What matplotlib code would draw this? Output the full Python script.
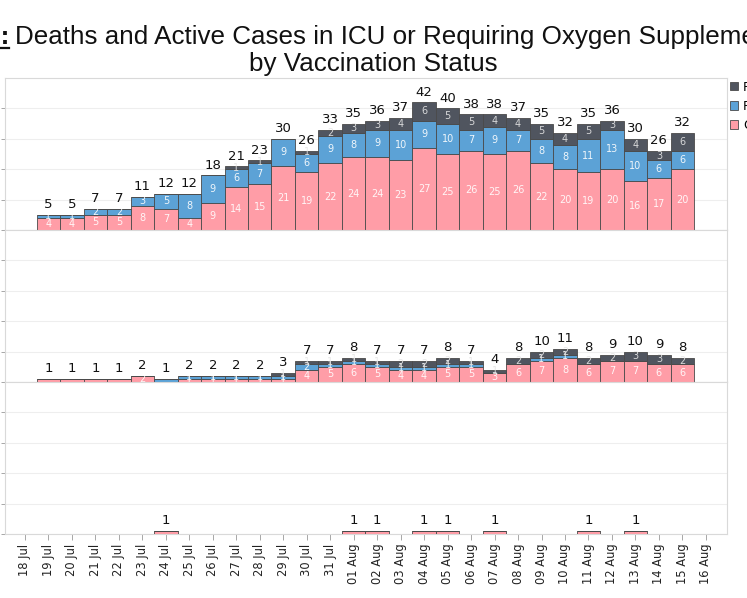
import matplotlib
matplotlib.use('Agg')
import matplotlib.pyplot as plt
import matplotlib.dates as mdates
import pandas as pd
import numpy as np

# ---------------- data ----------------
tick_dates = pd.date_range('2021-07-18', '2021-08-16', freq='D')
bar_dates = pd.date_range('2021-07-19', '2021-08-15', freq='D')

series_labels = ['Fully Vaccinated', 'Partially Vaccinated', 'Others']

# Top panel: requiring oxygen supplementation
oxy_unvacc = [4, 4, 5, 5, 8, 7, 4, 9, 14, 15, 21, 19, 22, 24, 24, 23, 27, 25, 26, 25, 26, 22, 20, 19, 20, 16, 17, 20]
oxy_partial = [1, 1, 2, 2, 3, 5, 8, 9, 6, 7, 9, 6, 9, 8, 9, 10, 9, 10, 7, 9, 7, 8, 8, 11, 13, 10, 6, 6]
oxy_full = [0, 0, 0, 0, 0, 0, 0, 0, 1, 1, 0, 1, 2, 3, 3, 4, 6, 5, 5, 4, 4, 5, 4, 5, 3, 4, 3, 6]

# Middle panel: in ICU
icu_unvacc = [1, 1, 1, 1, 2, 0, 1, 1, 1, 1, 1, 4, 5, 6, 5, 4, 4, 5, 5, 3, 6, 7, 8, 6, 7, 7, 6, 6]
icu_partial = [0, 0, 0, 0, 0, 1, 1, 1, 1, 1, 1, 2, 1, 1, 1, 1, 1, 1, 1, 0, 0, 1, 1, 0, 0, 0, 0, 0]
icu_full = [0, 0, 0, 0, 0, 0, 0, 0, 0, 0, 1, 1, 1, 1, 1, 2, 2, 2, 1, 1, 2, 2, 2, 2, 2, 3, 3, 2]

# Bottom panel: deaths
death_unvacc = [0, 0, 0, 0, 0, 1, 0, 0, 0, 0, 0, 0, 0, 1, 1, 0, 1, 1, 0, 1, 0, 0, 0, 1, 0, 1, 0, 0]
death_partial = [0] * 28
death_full = [0] * 28

title_prefix = 'Figure 6:'
title_line1 = 'Deaths and Active Cases in ICU or Requiring Oxygen Supplementation'
title_line2 = 'by Vaccination Status'

# ---------------- style ----------------
PINK = '#FF9DA7'
BLUE = '#5CA2D6'
DARK = '#50555F'
EDGE = '#4a4a4a'
SPINE = '#d9d9d9'
GRID = '#eeeeee'

W, H = 747, 598
fig = plt.figure(figsize=(W / 100, H / 100), dpi=100)

def rect(top_px, bottom_px, left_px=5, right_px=727):
    return [left_px / W, 1 - bottom_px / H, (right_px - left_px) / W, (bottom_px - top_px) / H]

panel_px = [(78, 230), (230, 382), (382, 534)]
panels = [
    (oxy_unvacc, oxy_partial, oxy_full),
    (icu_unvacc, icu_partial, icu_full),
    (death_unvacc, death_partial, death_full),
]

xmin = mdates.date2num(tick_dates[0]) - 0.85
xmax = mdates.date2num(tick_dates[-1]) + 0.9

axes = []
handles = None
for i, ((top, bot), (unv, par, ful)) in enumerate(zip(panel_px, panels)):
    ax = fig.add_axes(rect(top, bot))
    axes.append(ax)
    unv = np.array(unv)
    par = np.array(par)
    ful = np.array(ful)
    xs = mdates.date2num(bar_dates)
    b1 = ax.bar(xs, unv, width=1.0, color=PINK, edgecolor=EDGE, linewidth=0.6, zorder=3)
    b2 = ax.bar(xs, par, width=1.0, bottom=unv, color=BLUE, edgecolor=EDGE, linewidth=0.6, zorder=3)
    b3 = ax.bar(xs, ful, width=1.0, bottom=unv + par, color=DARK, edgecolor=EDGE, linewidth=0.6, zorder=3)
    if handles is None:
        handles = [b3, b2, b1]
    totals = unv + par + ful
    for j, x in enumerate(xs):
        segs = [(unv[j], 0, '#ffffff'), (par[j], unv[j], '#ffffff'), (ful[j], unv[j] + par[j], '#e6e6e6')]
        nonzero = sum(1 for s in segs if s[0] > 0)
        for val, base, col in segs:
            if val <= 0:
                continue
            if nonzero == 1 and val < 2:
                continue
            ax.text(x, base + val / 2, str(val), ha='center', va='center',
                    fontsize=7, color=col, alpha=0.9, zorder=4)
        if totals[j] > 0:
            ax.annotate(str(totals[j]), (x, totals[j]), xytext=(0, 2.5),
                        textcoords='offset points', ha='center', va='bottom',
                        fontsize=9.5, color='#111111', zorder=5)
    ax.set_xlim(xmin, xmax)
    ax.set_ylim(0, 50)
    ax.set_yticks([0, 10, 20, 30, 40])
    ax.yaxis.grid(True, color=GRID, linewidth=0.8, zorder=0)
    ax.set_axisbelow(True)
    for s in ax.spines.values():
        s.set_color(SPINE)
        s.set_linewidth(0.8)
    ax.tick_params(axis='y', left=True, labelleft=False, length=3, color='#999999', width=0.6)
    if i < 2:
        ax.tick_params(axis='x', bottom=False, labelbottom=False)
    else:
        ax.set_xticks(mdates.date2num(tick_dates))
        ax.xaxis.set_major_formatter(mdates.DateFormatter('%d %b'))
        ax.tick_params(axis='x', bottom=True, length=4, color='#999999', width=0.6,
                       labelsize=8.3, labelcolor='#222222', pad=3)
        for lab in ax.get_xticklabels():
            lab.set_rotation(90)
            lab.set_ha('center')

# ---------------- title ----------------
tfont = dict(family='Liberation Sans', fontsize=18.7, color='#111111')
fig.text(15 / W, 1 - 44 / H, title_line1, ha='left', va='baseline', **tfont)
fig.text(9 / W, 1 - 44 / H, title_prefix, ha='right', va='baseline', fontweight='bold', **tfont)
fig.add_artist(plt.Line2D([-0.2, 8.5 / W], [1 - 47.5 / H, 1 - 47.5 / H], transform=fig.transFigure,
                          color='#111111', linewidth=1.6))
fig.text(373 / W, 1 - 71 / H, title_line2, ha='center', va='baseline', **tfont)

# ---------------- legend ----------------
fig.legend(handles, series_labels, loc='upper left', bbox_to_anchor=(729.5 / W, 1 - 80.5 / H),
           frameon=False, fontsize=9, handlelength=0.65, handleheight=0.65,
           handletextpad=0.45, labelspacing=0.5, borderaxespad=0, borderpad=0)

fig.savefig('out.png', dpi=100)
